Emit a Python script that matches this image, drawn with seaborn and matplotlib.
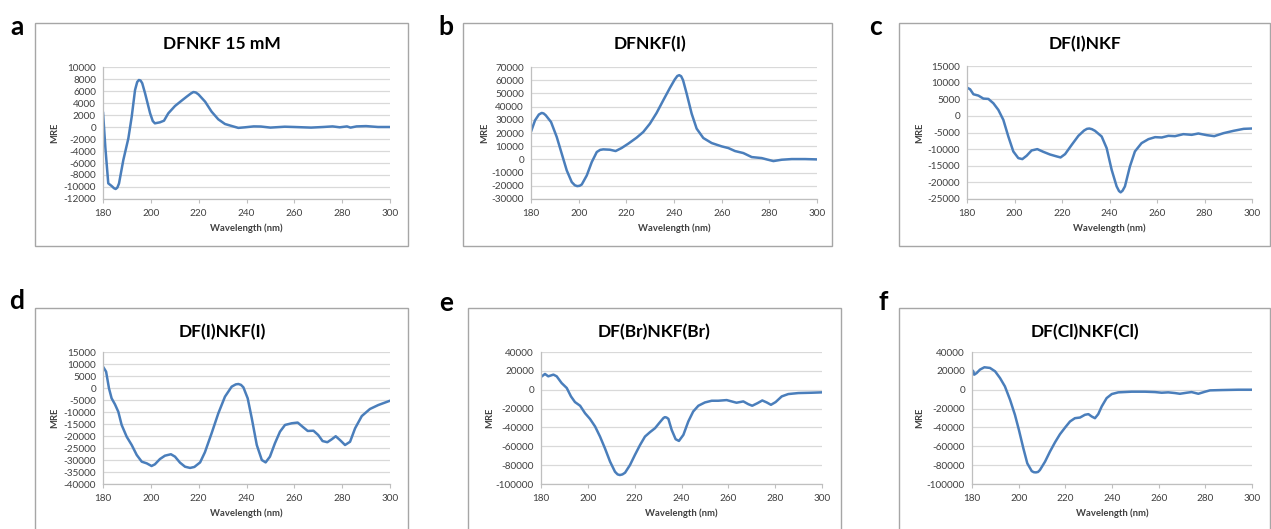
import numpy as np
import pandas as pd
import matplotlib
matplotlib.use("Agg")
import matplotlib.pyplot as plt
from matplotlib.patches import Rectangle
import seaborn as sns

sns.set_theme(style="white")
plt.rcParams['font.family'] = ['Lato', 'DejaVu Sans']
plt.rcParams['axes.unicode_minus'] = False

# ---------------- data ----------------
titles = ["DFNKF 15 mM", "DFNKF(I)", "DF(I)NKF", "DF(I)NKF(I)", "DF(Br)NKF(Br)", "DF(Cl)NKF(Cl)"]
letters = ["a", "b", "c", "d", "e", "f"]

wl_a = [180, 181, 182.2, 183.6, 184.6, 185.3, 186, 186.7, 188.5, 190.6, 192, 193.4, 194.3, 195, 195.7, 196.4,
        197.6, 199.7, 200.8, 201.7, 203.8, 205.5, 207.3, 210.1, 212.9, 215, 216.8, 217.8, 218.8, 219.9, 222.7,
        225.4, 228.2, 231, 233.8, 236.6, 239.4, 243, 246, 250, 256, 260, 267, 272, 276, 279, 282, 283.5,
        286, 290, 295, 300]
mre_a = [2500, -3500, -9390, -9830, -10200, -10330, -10100, -9400, -5500, -1900, 1700, 6170, 7500, 7830, 7750, 7300,
         5600, 2280, 1000, 610, 780, 1050, 2280, 3500, 4400, 5060, 5600, 5830, 5750, 5440, 4220,
         2560, 1280, 500, 170, -150, -50, 100, 80, -100, 50, 0, -100, 0, 100, -50, 100, -100,
         100, 150, 0, 0]

wl_b = [180, 181.7, 183.3, 184.5, 185.3, 186.2, 188.4, 190.8, 192.9, 195, 197.1, 198.4, 199.4, 200.4, 201.3,
        203.4, 205.5, 207.6, 209, 210.3, 213.1, 215.5, 218, 220.8, 224.3, 227.1, 229.9, 232.7, 235.5, 238.3,
        240.3, 241.4, 242.2, 243, 243.8, 245.3, 247.4, 249.5, 252.3, 255.8, 260, 262.8, 265.6, 269.1,
        272.6, 276.8, 278.9, 281.7, 285.2, 289.4, 295, 300]
mre_b = [21000, 29600, 34000, 35200, 34800, 33400, 28350, 17000, 4300, -8350, -17200, -19600, -20250, -20000, -19000,
         -12150, -2000, 5600, 7200, 7600, 7340, 6330, 8600, 11900, 16450, 20760, 27100, 35200, 44800, 54200,
         60500, 63200, 63800, 63000, 60000, 49900, 34700, 23300, 16200, 12400, 9870, 8600, 6330, 4800,
         1770, 1000, 0, -1270, -250, 250, 250, 0]

wl_c = [180, 181.3, 182.7, 184.8, 186.9, 189, 191.1, 193.2, 195.3, 197.4, 199.5, 201.6, 203.3, 205.1,
        207.2, 209.6, 212.1, 214.9, 217.8, 219.4, 221.3, 224.1, 226.9, 229.3, 230.5, 231.5, 232.6, 233.9, 236.7,
        238.8, 240.9, 243, 244, 244.7, 245.5, 246.5, 248.6, 250.7, 253.5, 256.4, 259.2, 262, 264.8, 267.6,
        271.1, 274.6, 277.4, 281, 284.1, 288, 292.2, 296.5, 300]
mre_c = [8500, 8000, 6500, 6100, 5200, 5100, 3800, 1800, -1200, -6200, -10700, -12700, -13000, -12000,
         -10400, -10000, -10800, -11600, -12200, -12500, -11500, -8700, -6000, -4400, -3900, -3800, -4000, -4500, -6200,
         -9700, -16200, -21200, -22600, -23000, -22500, -21200, -15200, -10700, -8200, -7000, -6400, -6500, -6000, -6100,
         -5500, -5700, -5300, -5800, -6100, -5200, -4500, -3900, -3800]

wl_d = [180, 181.3, 182.5, 183.6, 185, 186.4, 187.8, 189.9, 192, 194.1, 196.2, 198.3, 200.3, 201.7,
        203.8, 205.9, 208.4, 210.1, 212.2, 214.3, 216.4, 218.2, 220.6, 222.6, 225.4, 228.2, 231,
        233.8, 235.5, 236.6, 237.7, 238.7, 240.5, 242.2, 244.3, 246.4, 248, 249.8, 251.9, 254, 256.1, 258.9,
        261.4, 263.4, 265.6, 268, 270, 271.8, 273.8, 275.6, 277.3, 279.1, 281.2, 283.3, 285.4,
        288.2, 291.6, 295.1, 300]
mre_d = [8900, 6800, -140, -4300, -6800, -9900, -15400, -20300, -23750, -27900, -30700, -31400, -32500, -31800,
         -29600, -28200, -27600, -28600, -31100, -32800, -33300, -32900, -31000, -26800, -18900, -10600, -3600,
         560, 1500, 1670, 1300, 280, -4300, -12600, -23750, -30000, -31000, -28600, -23000, -18200, -15400, -14700,
         -14400, -16100, -17900, -17800, -19600, -22100, -22600, -21400, -20100, -21700, -23750, -22400, -16800,
         -11700, -8750, -7100, -5300]

wl_e = [180, 181.7, 183.1, 185.3, 186.7, 188.8, 191, 192.8, 194.5, 196.7, 198.8, 200.9, 203.1, 205.2,
        207.3, 209.5, 211.6, 212.7, 213.7, 214.8, 215.9, 218, 220.1, 222.3, 224.4, 226.5, 228.7, 230.8, 232.3,
        232.9, 233.6, 234.4, 235.8, 237.5, 238.9, 240.8, 242.9, 245, 247.2, 250, 252.9, 255.7, 259.3, 261.4,
        263.5, 266.4, 268.5, 270.2, 272.5, 274.5, 276.4, 278.2, 280.2, 282.8, 285.6, 289.9, 295.6, 300]
mre_e = [13500, 16700, 14200, 16000, 14200, 7100, 1800, -7100, -13100, -17000, -24900, -30900, -39000, -49700,
         -62100, -76300, -87000, -89800, -90500, -89800, -88000, -79900, -69200, -58600, -49700, -45100, -40800,
         -34400, -30000, -29100, -29500, -30900, -42600, -52500, -54300, -47900, -33700, -23100, -17000, -13500,
         -11700, -11700, -11000, -12400, -13800, -12400, -15300, -17000, -14200, -11400, -13500, -16000, -13100,
         -7100, -4600, -3550, -3200, -2800]

wl_f = [180, 180.4, 181, 182, 183.4, 185.3, 187.7, 189.9, 192, 194.1, 196.3, 198.4, 200.1, 202,
        203.7, 205.6, 206.5, 207.4, 208.3, 209.1, 211.3, 213.4, 215.6, 217.7, 219.9, 222, 224.1, 226.3, 228.4,
        229.9, 231.3, 232.7, 234.1, 235.6, 237.7, 239.9, 242.7, 248.4, 254.1, 258.4, 261.3, 264.1,
        267, 269.1, 272, 274.1, 277, 279.9, 282, 287, 294.1, 300]
mre_f = [15300, 20200, 16000, 17700, 21300, 23800, 23100, 19500, 12400, 3550, -10600, -26600, -42600, -62100,
         -78100, -86300, -87500, -87700, -87200, -85200, -76300, -65700, -55700, -47200, -40100, -33700, -30200,
         -29500, -26600, -25900, -28400, -30200, -25900, -17700, -8900, -4600, -2800, -2100, -2100, -2500, -3200,
         -2800, -3550, -4300, -3200, -2500, -4300, -2100, -700, -350, 0, 0]

wls = [wl_a, wl_b, wl_c, wl_d, wl_e, wl_f]
mres = [mre_a, mre_b, mre_c, mre_d, mre_e, mre_f]
yticks = [np.arange(-12000, 10001, 2000), np.arange(-30000, 70001, 10000), np.arange(-25000, 15001, 5000),
          np.arange(-40000, 15001, 5000), np.arange(-100000, 40001, 20000), np.arange(-100000, 40001, 20000)]
xticks = np.arange(180, 301, 20)

# ---------------- layout (pixels) ----------------
W, H = 1271, 529
fig = plt.figure(figsize=(W / 100, H / 100), dpi=100)
fig.patch.set_facecolor("white")

def frac(x0, x1, y0, y1):
    return [x0 / W, 1 - y1 / H, (x1 - x0) / W, (y1 - y0) / H]

axes_px = [(103, 390, 67, 199), (531, 817, 67, 199), (967, 1252, 66, 199),
           (103, 390, 352, 484), (541, 822, 352, 484), (972, 1252, 352, 484)]
box_px = [(35, 408, 23, 246), (463, 832, 23, 246), (899, 1270, 23, 246),
          (35, 408, 308, 540), (468, 841, 308, 540), (899, 1270, 308, 540)]
title_px = [(222, 44), (650, 44), (1085, 44), (222, 332), (654, 332), (1085, 332)]
letter_px = [(17, 27), (446, 27), (875, 27), (17, 301), (446, 303), (883, 302)]
mre_px = [55, 485, 920, 55, 490, 920]
xlab_dy = 29

grid_c = "#D9D9D9"
axis_c = "#BFBFBF"
line_c = "#4A7EBB"

for i in range(6):
    bx0, bx1, by0, by1 = box_px[i]
    fig.patches.append(Rectangle((bx0 / W, 1 - by1 / H), (bx1 - bx0) / W, (by1 - by0) / H,
                                 transform=fig.transFigure, fill=False, edgecolor="#A6A6A6", lw=1.0))
    ax = fig.add_axes(frac(*axes_px[i]))
    df = pd.DataFrame({"Wavelength": wls[i], "MRE": mres[i]})
    sns.lineplot(data=df, x="Wavelength", y="MRE", ax=ax, color=line_c, lw=1.8, sort=False)
    for ln in ax.get_lines():
        ln.set_solid_joinstyle("round")
        ln.set_solid_capstyle("round")
    yt = yticks[i]
    ax.set_xlim(180, 300)
    ax.set_ylim(yt[0], yt[-1])
    ax.set_yticks(yt)
    ax.set_yticklabels([str(int(v)) for v in yt], fontsize=7.2, color="#404040")
    ax.set_xticks(xticks)
    ax.set_xticklabels([str(v) for v in xticks], fontsize=7.2, color="#404040")
    ax.tick_params(axis="x", length=0, pad=7)
    ax.tick_params(axis="y", length=3, width=0.8, color=axis_c, pad=2, direction="out")
    ax.grid(axis="y", color=grid_c, lw=0.9)
    ax.grid(axis="x", visible=False)
    ax.set_axisbelow(True)
    for s in ["top", "right", "bottom"]:
        ax.spines[s].set_visible(False)
    ax.spines["left"].set_color(axis_c)
    ax.spines["left"].set_linewidth(0.9)
    ax.set_xlabel("")
    ax.set_ylabel("")
    sec = ax.secondary_xaxis(0)
    sec.set_xticks(xticks)
    sec.tick_params(axis="x", length=3, width=0.8, color=axis_c, direction="out", labelbottom=False)
    sec.spines["bottom"].set_color(axis_c)
    sec.spines["bottom"].set_linewidth(0.9)
    ax.set_facecolor("white")

    ax0, ax1, ay0, ay1 = axes_px[i]
    fig.text(title_px[i][0] / W, 1 - title_px[i][1] / H, titles[i], ha="center", va="center",
             fontsize=12.5, fontweight="bold", color="black")
    fig.text(letter_px[i][0] / W, 1 - letter_px[i][1] / H, letters[i], ha="center", va="center",
             fontsize=19, fontweight="bold", color="black")
    fig.text(((ax0 + ax1) / 2) / W, 1 - (ay1 + xlab_dy) / H, "Wavelength (nm)", ha="center", va="center",
             fontsize=6.8, fontweight="bold", color="#404040")
    fig.text(mre_px[i] / W, 1 - ((ay0 + ay1) / 2) / H, "MRE", ha="center", va="center", rotation=90,
             fontsize=6.8, fontweight="bold", color="#404040")

fig.savefig("out.png", dpi=100, facecolor="white")
